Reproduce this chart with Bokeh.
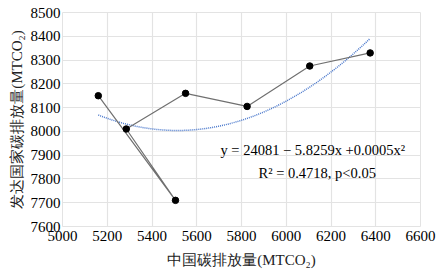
import numpy as np
from bokeh.plotting import figure
from bokeh.models import Label, Range1d, FixedTicker
from bokeh.embed import file_html
from bokeh.resources import INLINE

china = [5160, 5505, 5285, 5550, 5825, 6105, 6375]
developed = [8150, 7710, 8010, 8160, 8105, 8275, 8330]
x_ticks = [5000, 5200, 5400, 5600, 5800, 6000, 6200, 6400, 6600]
y_ticks = [7600, 7700, 7800, 7900, 8000, 8100, 8200, 8300, 8400, 8500]
eq_text = "y =  24081 \u2212 5.8259x +0.0005x\u00b2"
r2_text = "R\u00b2 = 0.4718, p<0.05"

FONT = "Liberation Serif"

p = figure(width=439, height=275, output_backend="svg", toolbar_location=None,
           x_range=Range1d(5000, 6600), y_range=Range1d(7600, 8500),
           min_border_left=62, min_border_right=19, min_border_top=12, min_border_bottom=49)
p.background_fill_color = "white"
p.outline_line_color = "#e3e3e3"

for ax in (p.xaxis, p.yaxis):
    ax.axis_line_color = None
    ax.major_tick_line_color = None
    ax.minor_tick_line_color = None
    ax.major_tick_out = 0
    ax.major_tick_in = 0
    ax.major_label_text_font = FONT
    ax.major_label_text_font_size = "15px"
    ax.major_label_text_color = "black"
    ax.axis_label_text_font = FONT
    ax.axis_label_text_font_size = "15px"
    ax.axis_label_text_font_style = "normal"
    ax.axis_label_text_color = "#222222"
p.xaxis.ticker = FixedTicker(ticks=x_ticks)
p.yaxis.ticker = FixedTicker(ticks=y_ticks)
p.xaxis.major_label_standoff = 4
p.yaxis.major_label_standoff = 2
p.xaxis.axis_label = "中国碳排放量(MTCO\u2082)"
p.yaxis.axis_label = "发达国家碳排放量(MTCO\u2082)"
p.xaxis.axis_label_standoff = 8
p.yaxis.axis_label_standoff = 3
p.xgrid.grid_line_color = "#e3e3e3"
p.ygrid.grid_line_color = "#e3e3e3"
p.xgrid.grid_line_width = 1.2
p.ygrid.grid_line_width = 1.2

# trend line (quadratic least squares fit of the data)
coef = np.polyfit(china, developed, 2)
xs = np.linspace(min(china), max(china), 100)
p.line(xs, np.polyval(coef, xs), line_color="#4a78cc", line_width=1.5, line_dash="1 1")

p.line(china, developed, line_color="#707070", line_width=1.2)
p.scatter(china, developed, size=6.5, fill_color="black", line_color="black")

p.add_layout(Label(x=5706, y=7920, text=eq_text, text_align="left", text_baseline="middle",
                   text_font=FONT, text_font_size="14.5px", text_color="black"))
p.add_layout(Label(x=5876, y=7827, text=r2_text, text_align="left", text_baseline="middle",
                   text_font=FONT, text_font_size="14.5px", text_color="black"))

open("out.html", "w").write(file_html(p, INLINE))
